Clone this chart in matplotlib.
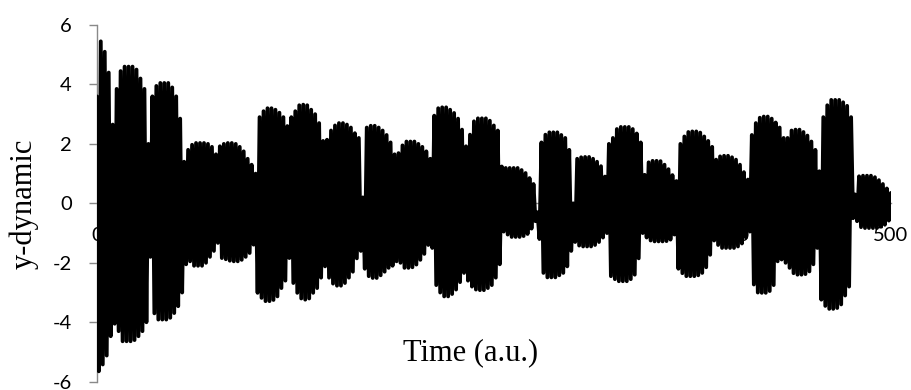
import numpy as np
import matplotlib
matplotlib.use("Agg")
import matplotlib.pyplot as plt

# Successive positive peaks of the response (one every 2.5 time units, from t = 0)
upper_peaks = [
    3.6, 5.45, 5.1, 4.4, 2.65, 3.85, 4.45, 4.6,
    4.6, 4.6, 4.5, 4.2, 3.85, 2.0, 3.6, 3.95,
    4.05, 4.05, 4.05, 3.9, 3.6, 2.85, 1.4, 1.8,
    1.97, 2.03, 2.03, 2.03, 2.0, 1.9, 1.65, 1.92,
    2.0, 2.03, 2.03, 2.0, 1.9, 1.75, 1.5, 1.3,
    1.0, 2.9, 3.1, 3.2, 3.2, 3.15, 3.05, 2.9,
    2.6, 2.9, 3.1, 3.3, 3.32, 3.3, 3.15, 3.0,
    2.7, 2.1, 2.14, 2.45, 2.62, 2.7, 2.7, 2.65,
    2.55, 2.36, 2.2, 0.2, 2.55, 2.61, 2.61, 2.55,
    2.45, 2.3, 2.05, 1.65, 1.69, 1.95, 2.08, 2.08,
    2.08, 2.0, 1.9, 1.75, 1.5, 2.95, 3.2, 3.23,
    3.23, 3.15, 3.04, 2.85, 2.48, 1.92, 2.31, 2.76,
    2.86, 2.86, 2.86, 2.78, 2.62, 2.45, 1.24, 1.19,
    1.19, 1.19, 1.19, 1.12, 1.02, 0.85, 0.65, -0.3,
    2.05, 2.31, 2.39, 2.39, 2.39, 2.3, 2.2, 1.8,
    0.0, 1.5, 1.55, 1.56, 1.56, 1.5, 1.4, 1.25,
    0.9, 2.0, 2.2, 2.5, 2.57, 2.57, 2.57, 2.5,
    2.35, 2.05, 0.96, 1.38, 1.43, 1.43, 1.42, 1.3,
    1.15, 0.95, 0.75, 2.0, 2.25, 2.4, 2.42, 2.42,
    2.38, 2.25, 2.1, 1.9, 1.47, 1.58, 1.6, 1.6,
    1.55, 1.47, 1.3, 1.05, 0.8, 2.3, 2.7, 2.88,
    2.92, 2.92, 2.85, 2.72, 2.55, 2.2, 2.2, 2.45,
    2.48, 2.48, 2.4, 2.28, 2.08, 1.8, 1.08, 2.9,
    3.3, 3.48, 3.48, 3.48, 3.4, 3.28, 2.9, 0.3,
    0.91, 0.93, 0.93, 0.93, 0.88, 0.78, 0.65, 0.5,
    0.35,
]

# Successive negative peaks (one every 2.5 time units, from t = 1.25)
lower_peaks = [
    -5.65, -5.42, -5.12, -4.47, -4.05, -4.3, -4.64, -4.64,
    -4.64, -4.6, -4.47, -4.3, -4.0, -1.8, -3.7, -3.91,
    -3.91, -3.91, -3.85, -3.69, -3.46, -3.0, -2.05, -1.95,
    -2.1, -2.1, -2.1, -2.0, -1.8, -1.6, -1.33, -1.84,
    -1.88, -1.93, -1.95, -1.95, -1.9, -1.8, -1.67, -1.39,
    -3.01, -3.18, -3.29, -3.29, -3.25, -3.13, -2.85, -2.6,
    -1.84, -2.68, -3.01, -3.2, -3.24, -3.2, -3.01, -2.85,
    -2.5, -2.12, -2.5, -2.7, -2.77, -2.77, -2.68, -2.5,
    -2.3, -1.85, -1.6, -2.2, -2.45, -2.51, -2.51, -2.42,
    -2.3, -2.17, -2.1, -1.95, -2.0, -2.17, -2.17, -2.15,
    -2.06, -1.9, -1.7, -1.4, -1.5, -2.75, -3.0, -3.13,
    -3.13, -3.05, -2.9, -2.65, -2.34, -2.6, -2.8, -2.9,
    -2.92, -2.92, -2.85, -2.75, -2.5, -2.05, -0.95, -1.05,
    -1.13, -1.13, -1.13, -1.1, -1.03, -0.85, -0.6, -1.2,
    -2.34, -2.49, -2.49, -2.49, -2.42, -2.34, -2.12, -1.6,
    -1.3, -1.42, -1.45, -1.45, -1.45, -1.4, -1.3, -1.15,
    -1.0, -2.45, -2.55, -2.62, -2.62, -2.62, -2.55, -2.4,
    -1.85, -1.0, -1.15, -1.25, -1.28, -1.28, -1.28, -1.27,
    -1.22, -1.05, -2.2, -2.35, -2.45, -2.45, -2.45, -2.42,
    -2.34, -2.15, -1.73, -1.25, -1.4, -1.5, -1.5, -1.5,
    -1.5, -1.45, -1.35, -1.15, -0.95, -2.73, -3.0, -3.01,
    -3.01, -2.95, -2.75, -1.95, -1.89, -2.0, -2.17, -2.35,
    -2.4, -2.4, -2.38, -2.29, -2.05, -1.5, -3.24, -3.45,
    -3.55, -3.55, -3.52, -3.4, -3.1, -2.8, -0.5, -0.6,
    -0.8, -0.83, -0.83, -0.83, -0.83, -0.78, -0.72, -0.58,
]

peak_spacing = 2.5  # time units between two positive peaks
x_ticks = [0, 100, 200, 300, 400, 500]
y_ticks = [-6, -4, -2, 0, 2, 4, 6]

# Interleave positive and negative peaks into one time series
up = np.asarray(upper_peaks)
lo = np.asarray(lower_peaks)
t_up = np.arange(len(up)) * peak_spacing
t_lo = np.arange(len(lo)) * peak_spacing + peak_spacing / 2
time = np.concatenate([t_up, t_lo])
signal = np.concatenate([up, lo])
order = np.argsort(time, kind="stable")
time, signal = time[order], signal[order]

W, H = 911, 390
fig = plt.figure(figsize=(W / 100, H / 100), dpi=100)
ax = fig.add_axes([96.8 / W, 1 - 381.7 / H, 794 / W, (381.7 - 25) / H])

ax.plot(time, signal, color="black", lw=2.75, solid_joinstyle="round",
        solid_capstyle="round", zorder=2)

ax.set_xlim(0, 500)
ax.set_ylim(-6, 6)
ax.set_xticks(x_ticks)
ax.set_yticks(y_ticks)

axis_grey = "#898989"
for side in ("top", "right"):
    ax.spines[side].set_visible(False)
ax.spines["bottom"].set_position(("data", 0))
for side in ("left", "bottom"):
    ax.spines[side].set_color(axis_grey)
    ax.spines[side].set_linewidth(1.0)
    ax.spines[side].set_zorder(0.5)
ax.set_axisbelow(True)

tick_font = dict(family=["Lato", "DejaVu Sans"], size=14.5)
ax.tick_params(axis="y", direction="out", length=6, width=1.0,
               color=axis_grey, pad=12, labelcolor="black")
ax.tick_params(axis="x", length=0, pad=17, labelcolor="black")
ax.set_xticklabels([str(v) for v in x_ticks], fontdict=tick_font)
ax.set_yticklabels([str(v) for v in y_ticks], fontdict=tick_font)

title_font = dict(family=["Liberation Serif", "DejaVu Serif"], size=22)
fig.text(23.5 / W, 1 - 204 / H, "y-dynamic", rotation=90,
         ha="center", va="center", **title_font)
fig.text(471 / W, 1 - 360 / H, "Time (a.u.)", ha="center",
         va="baseline", **title_font)

fig.savefig("out.png", dpi=100)
